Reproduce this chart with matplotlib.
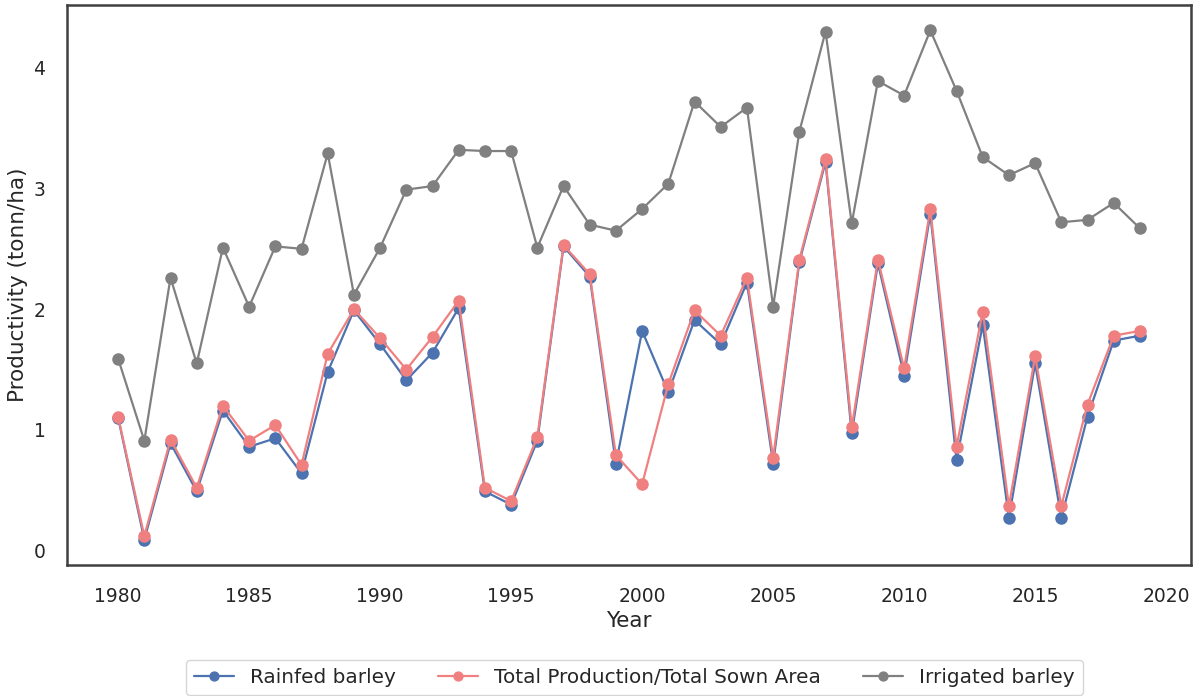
import matplotlib
matplotlib.use("Agg")
import matplotlib.pyplot as plt
import seaborn as sns

sns.set_style("white")

years = list(range(1980, 2020))

# productivity in tonn/ha
rainfed = [1.10, 0.09, 0.89, 0.49, 1.16, 0.86, 0.93, 0.64, 1.48, 1.99,
           1.71, 1.41, 1.64, 2.01, 0.49, 0.38, 0.91, 2.52, 2.27, 0.72,
           1.82, 1.31, 1.91, 1.71, 2.22, 0.72, 2.39, 3.22, 0.97, 2.38,
           1.45, 2.79, 0.75, 1.87, 0.27, 1.55, 0.27, 1.11, 1.74, 1.78]
total = [1.11, 0.12, 0.92, 0.52, 1.20, 0.91, 1.04, 0.71, 1.63, 2.00,
         1.76, 1.50, 1.77, 2.07, 0.52, 0.41, 0.94, 2.53, 2.29, 0.79,
         0.55, 1.38, 1.99, 1.78, 2.26, 0.77, 2.41, 3.24, 1.02, 2.41,
         1.51, 2.83, 0.86, 1.98, 0.37, 1.61, 0.37, 1.21, 1.78, 1.82]
irrigated = [1.59, 0.91, 2.26, 1.55, 2.51, 2.02, 2.52, 2.50, 3.29, 2.12,
             2.51, 2.99, 3.02, 3.32, 3.31, 3.31, 2.51, 3.02, 2.70, 2.65,
             2.83, 3.04, 3.72, 3.51, 3.67, 2.02, 3.47, 4.30, 2.71, 3.89,
             3.77, 4.31, 3.81, 3.26, 3.11, 3.21, 2.72, 2.74, 2.88, 2.67]

fig, ax = plt.subplots(figsize=(11.97, 6.96), dpi=100)
fig.subplots_adjust(left=0.056, right=0.995, top=0.993, bottom=0.188)

ax.plot(years, rainfed, marker="o", color="#4c72b0", lw=1.6, ms=8, label="Rainfed barley")
ax.plot(years, total, marker="o", color="#f08080", lw=1.6, ms=8,
        label="Total Production/Total Sown Area")
ax.plot(years, irrigated, marker="o", color="gray", lw=1.6, ms=8, label="Irrigated barley")

ax.set_xticks(range(1980, 2021, 5))
ax.set_yticks(range(0, 5))
ax.tick_params(labelsize=13.5, pad=12, colors="#262626")
ax.set_xlabel("Year", fontsize=15.5, color="#262626")
ax.set_ylabel("Productivity (tonn/ha)", fontsize=15.5, color="#262626")
for s in ax.spines.values():
    s.set_color("#404040")
    s.set_linewidth(1.8)

fig.legend(loc="center", bbox_to_anchor=(0.53, 0.027), ncol=3, fontsize=14.4,
           bbox_transform=fig.transFigure, columnspacing=2.1, markerscale=0.8)
fig.savefig("out.png", dpi=100)
